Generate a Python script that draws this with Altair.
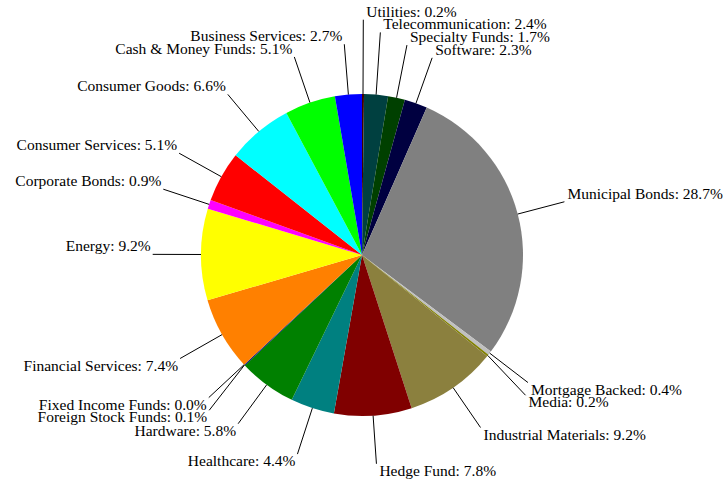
import math
import altair as alt
import pandas as pd

# Slices, clockwise from 12 o'clock
categories = ["Utilities", "Telecommunication", "Specialty Funds", "Software",
              "Municipal Bonds", "Mortgage Backed", "Media", "Industrial Materials",
              "Hedge Fund", "Healthcare", "Hardware", "Foreign Stock Funds",
              "Fixed Income Funds", "Financial Services", "Energy", "Corporate Bonds",
              "Consumer Services", "Consumer Goods", "Cash & Money Funds", "Business Services"]
shares = [0.2, 2.4, 1.7, 2.3, 28.7, 0.4, 0.2, 9.2, 7.8, 4.4, 5.8, 0.1, 0.0, 7.4,
          9.2, 0.9, 5.1, 6.6, 5.1, 2.7]
colors = ["#400000", "#004040", "#004000", "#000040", "#808080", "#c0c0c0", "#808000",
          "#8b803e", "#800000", "#008080", "#008000", "#000080", "#800080", "#ff8000",
          "#ffff00", "#ff00ff", "#ff0000", "#00ffff", "#00ff00", "#0000ff"]

W, H = 725, 483
R = 161            # pie radius in px
CX, CY = 362, 255  # pie centre in px
LABEL_R = 1.3      # label anchor radius, in pie radii
GAP = 12.7 / R     # minimum vertical spacing between labels

total = sum(shares)
rows = []
cum = 0.0
for i, (c, v) in enumerate(zip(categories, shares)):
    mid = 2 * math.pi * (cum + v / 2) / total
    cum += v
    sx, sy = math.sin(mid), math.cos(mid)
    rows.append(dict(idx=i, category=c, share=v, label=f"{c}: {v:.1f}%",
                     ex=sx, ey=sy, lx=LABEL_R * sx, ly=LABEL_R * sy,
                     side="right" if sx >= 0 else "left",
                     half="upper" if sy >= 0 else "lower"))

# spread labels vertically away from the horizontal centre line
for side in ("left", "right"):
    up = sorted([r for r in rows if r["side"] == side and r["half"] == "upper"], key=lambda r: r["ly"])
    prev = None
    for r in up:
        if prev is not None and r["ly"] < prev + GAP:
            r["ly"] = prev + GAP
        prev = r["ly"]
    lo = sorted([r for r in rows if r["side"] == side and r["half"] == "lower"], key=lambda r: -r["ly"])
    prev = None
    for r in lo:
        if prev is not None and r["ly"] > prev - GAP:
            r["ly"] = prev - GAP
        prev = r["ly"]

df = pd.DataFrame(rows)

xs = alt.Scale(domain=[-CX / R, (W - CX) / R], nice=False, zero=False)
ys = alt.Scale(domain=[-(H - CY) / R, CY / R], nice=False, zero=False)

base = alt.Chart(df)

pie = base.mark_arc(radius=R).encode(
    theta=alt.Theta("share:Q", stack=True),
    order=alt.Order("idx:Q"),
    color=alt.Color("category:N", scale=alt.Scale(domain=categories, range=colors), legend=None),
    x=alt.XDatum(0, type="quantitative", scale=xs, axis=None),
    y=alt.YDatum(0, type="quantitative", scale=ys, axis=None),
)

leaders = base.mark_rule(color="black", strokeWidth=1).encode(
    x=alt.X("ex:Q", scale=xs, axis=None),
    y=alt.Y("ey:Q", scale=ys, axis=None),
    x2="lx:Q",
    y2="ly:Q",
)

FONT = dict(font="'Liberation Serif', 'Times New Roman', 'DejaVu Serif', serif",
            fontSize=15.5, color="black")


def labels(side, half):
    return base.transform_filter(
        (alt.datum.side == side) & (alt.datum.half == half)
    ).mark_text(
        align="left" if side == "right" else "right",
        baseline="bottom" if half == "upper" else "top",
        dx=3 if side == "right" else -2,
        **FONT,
    ).encode(
        x=alt.X("lx:Q", scale=xs, axis=None),
        y=alt.Y("ly:Q", scale=ys, axis=None),
        text="label:N",
    )


chart = alt.layer(
    pie, leaders,
    labels("right", "upper"), labels("right", "lower"),
    labels("left", "upper"), labels("left", "lower"),
).properties(
    width=W, height=H, padding=0,
    autosize=alt.AutoSizeParams(type="none"),
    background="white",
).configure_view(stroke=None)

chart.save("out.html", embed_options={"renderer": "svg", "actions": False})
